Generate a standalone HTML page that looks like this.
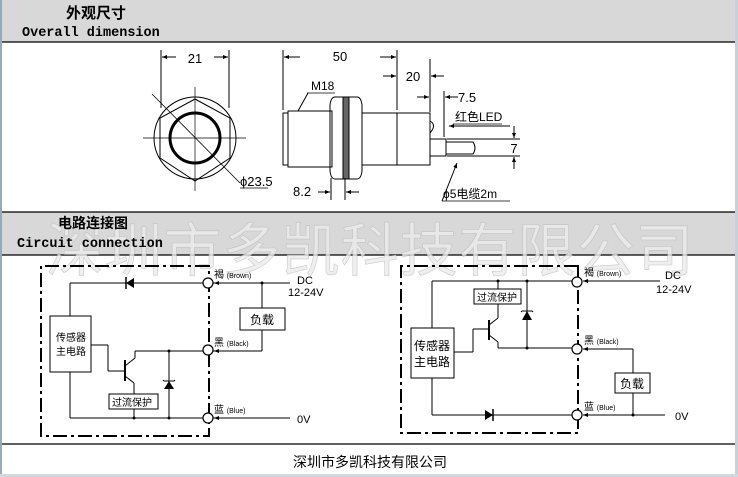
<!DOCTYPE html>
<html><head><meta charset="utf-8"><style>
html,body{margin:0;padding:0;background:#fff;}
svg{display:block;}
</style></head><body>
<svg width="738" height="477" viewBox="0 0 738 477" xmlns="http://www.w3.org/2000/svg" font-family="Liberation Sans, Noto Sans CJK SC, sans-serif">
<defs>
<marker id="ar" viewBox="0 0 10 10" refX="10" refY="5" markerWidth="7" markerHeight="5" orient="auto-start-reverse"><path d="M0,1 L10,5 L0,9z" fill="#000"/></marker>
</defs>
<rect x="0" y="0" width="738" height="477" fill="#fff"/>
<rect x="0" y="0" width="738" height="42" fill="#d8d8d8"/>
<rect x="0" y="212" width="738" height="43" fill="#d8d8d8"/>
<g stroke="#000" stroke-width="1.2">
<line x1="0" y1="42" x2="738" y2="42"/>
<line x1="0" y1="212" x2="738" y2="212"/>
<line x1="0" y1="255" x2="738" y2="255"/>
<line x1="0" y1="444" x2="738" y2="444"/>
</g>
<rect x="0" y="0" width="2" height="477" fill="#9aa8b8"/>
<rect x="735" y="0" width="3" height="477" fill="#c8d0d8"/>
<rect x="0" y="474" width="738" height="3" fill="#d0d8e0"/>
<text x="370" y="271" font-size="58" text-anchor="middle" fill="#ececec" stroke="#bcbcbc" stroke-width="0.6" font-family="Noto Sans CJK SC, sans-serif" letter-spacing="1" opacity="0.8">深圳市多凯科技有限公司</text>
<text x="66" y="18" font-size="15" font-weight="bold" font-family="Noto Sans CJK SC, sans-serif">外观尺寸</text>
<text x="22" y="36" font-size="13.5" font-family="Liberation Mono, monospace" font-weight="bold">Overall dimension</text>
<text x="58" y="228" font-size="14" font-weight="bold" font-family="Noto Sans CJK SC, sans-serif">电路连接图</text>
<text x="17" y="247" font-size="13.5" font-family="Liberation Mono, monospace" font-weight="bold">Circuit connection</text>

<g stroke="#000" fill="none" stroke-width="1">
<circle cx="195" cy="138" r="41"/>
<polygon points="195,99 230,118 230,158 195,181 160,158 160,118"/>
<circle cx="195" cy="138" r="25" stroke-width="3"/>
<line x1="143" y1="138" x2="246" y2="138" stroke-width="0.7"/>
<line x1="195" y1="87" x2="195" y2="191" stroke-width="0.7"/>
<line x1="152" y1="94" x2="240" y2="183" stroke-width="0.8"/>
<line x1="161" y1="50" x2="161" y2="108"/>
<line x1="229" y1="50" x2="229" y2="108"/>
<line x1="176" y1="57" x2="162" y2="57" marker-end="url(#ar)"/>
<line x1="214" y1="57" x2="228" y2="57" marker-end="url(#ar)"/>
<line x1="240" y1="188" x2="268" y2="188" stroke-width="0.8"/>
</g>
<text x="195" y="63" font-size="13" text-anchor="middle">21</text>
<text x="240" y="186" font-size="13">ϕ23.5</text>

<g stroke="#000" fill="none" stroke-width="1">
<rect x="283" y="113" width="5" height="52"/>
<rect x="288" y="111" width="44" height="56"/>
<path d="M335,97 h8 q4,0 5,8 v66 q-1,8 -5,8 h-8 q-4,0 -5,-8 v-66 q1,-8 5,-8z"/>
<path d="M349,97 h8 q4,0 5,8 v66 q-1,8 -5,8 h-8 q-4,0 -5,-8 v-66 q1,-8 5,-8z"/>
<rect x="343" y="97" width="6" height="82" fill="#666" stroke="#000"/>
<rect x="362" y="113" width="68" height="52"/>
<line x1="397" y1="113" x2="397" y2="165"/>
<path d="M430,121 q7,4 0,12"/>
<rect x="430" y="139" width="16" height="17"/>
<path d="M446,142 h27 q4,6 0,12 h-27"/>
<line x1="283" y1="50" x2="283" y2="110"/>
<line x1="397" y1="50" x2="397" y2="110"/>
<line x1="300" y1="57" x2="284" y2="57" marker-end="url(#ar)"/>
<line x1="380" y1="57" x2="396" y2="57" marker-end="url(#ar)"/>
<line x1="430" y1="59" x2="430" y2="112"/>
<line x1="383" y1="76" x2="396" y2="76" marker-end="url(#ar)"/>
<line x1="444" y1="76" x2="431" y2="76" marker-end="url(#ar)"/>
<line x1="444" y1="91" x2="444" y2="137"/>
<line x1="417" y1="97" x2="429" y2="97" marker-end="url(#ar)"/>
<line x1="458" y1="97" x2="445" y2="97" marker-end="url(#ar)"/>
<line x1="453" y1="124" x2="502" y2="124" stroke-width="0.7"/>
<line x1="510" y1="126" x2="449" y2="126" marker-end="url(#ar)"/>
<line x1="447" y1="139" x2="520" y2="139"/>
<line x1="447" y1="156" x2="520" y2="156"/>
<line x1="514" y1="126" x2="514" y2="138" marker-end="url(#ar)"/>
<line x1="514" y1="169" x2="514" y2="157" marker-end="url(#ar)"/>
<line x1="442" y1="201" x2="457" y2="163" marker-end="url(#ar)"/>
<line x1="442" y1="201" x2="510" y2="201" stroke-width="0.8"/>
<line x1="307" y1="93" x2="335" y2="93" stroke-width="0.8"/>
<line x1="308" y1="93" x2="298" y2="111"/>
<line x1="331" y1="178" x2="331" y2="200"/>
<line x1="345" y1="178" x2="345" y2="200"/>
<line x1="318" y1="192" x2="330" y2="192" marker-end="url(#ar)"/>
<line x1="359" y1="192" x2="346" y2="192" marker-end="url(#ar)"/>
</g>
<text x="340" y="61" font-size="13" text-anchor="middle">50</text>
<text x="413" y="81" font-size="13" text-anchor="middle">20</text>
<text x="458" y="102" font-size="13">7.5</text>
<text x="455" y="121" font-size="12" font-family="Liberation Sans, Noto Sans CJK SC, sans-serif">红色LED</text>
<text x="514" y="153" font-size="13" text-anchor="middle">7</text>
<text x="443" y="198" font-size="12" font-family="Liberation Sans, Noto Sans CJK SC, sans-serif">ϕ5电缆2m</text>
<text x="311" y="90" font-size="12">M18</text>
<text x="293" y="196" font-size="13">8.2</text>

<g stroke="#000" fill="none" stroke-width="1">
<path d="M209,266 H41 V436 H209 Z" stroke-width="2" stroke-dasharray="14,4,3,4"/>
<line x1="70" y1="283" x2="203" y2="283"/>
<line x1="70" y1="283" x2="70" y2="316"/>
<rect x="50" y="316" width="41" height="56"/>
<line x1="70" y1="372" x2="70" y2="418"/>
<line x1="70" y1="418" x2="203" y2="418"/>
<line x1="213" y1="283" x2="290" y2="283"/>
<line x1="213" y1="418" x2="290" y2="418"/>
<line x1="213" y1="351" x2="262" y2="351"/>
<line x1="262" y1="283" x2="262" y2="308"/>
<line x1="262" y1="330" x2="262" y2="351"/>
<rect x="240" y="308" width="45" height="22"/>
<line x1="135" y1="351" x2="203" y2="351"/>
<line x1="91" y1="345" x2="108" y2="345"/>
<line x1="108" y1="345" x2="108" y2="371"/>
<line x1="108" y1="371" x2="125" y2="371"/>
<line x1="125" y1="360" x2="125" y2="381" stroke-width="2"/>
<line x1="125" y1="366" x2="135" y2="358"/>
<line x1="135" y1="358" x2="135" y2="351"/>
<line x1="125" y1="376" x2="134" y2="383"/>
<line x1="134" y1="383" x2="134" y2="394"/>
<rect x="109" y="394" width="49" height="15"/>
<line x1="134" y1="409" x2="134" y2="418"/>
<line x1="169" y1="351" x2="169" y2="418"/>
<line x1="126" y1="277" x2="126" y2="289" stroke-width="1.5"/>
</g>
<polygon points="126,283 134,278 134,288" fill="#000"/>
<polygon points="169,381 164,389 174,389" fill="#000"/>
<path d="M163,380 l1,1 h10 l1,-1" stroke="#000" fill="none"/>
<g fill="#000"><circle cx="262" cy="283" r="1.5"/><circle cx="169" cy="351" r="1.5"/><circle cx="169" cy="418" r="1.5"/><circle cx="134" cy="418" r="1.5"/></g>
<g stroke="#000" fill="#fff" stroke-width="1.2"><circle cx="208" cy="283" r="5"/><circle cx="208" cy="350" r="5"/><circle cx="208" cy="418" r="5"/></g>
<g stroke="#000" stroke-width="1"><line x1="222" y1="283" x2="214" y2="283" marker-end="url(#ar)"/><line x1="222" y1="351" x2="214" y2="351" marker-end="url(#ar)"/><line x1="222" y1="418" x2="214" y2="418" marker-end="url(#ar)"/></g>
<g font-family="Liberation Sans, Noto Sans CJK SC, sans-serif">
<text x="56" y="341" font-size="10">传感器</text>
<text x="56" y="355" font-size="10">主电路</text>
<text x="250" y="324" font-size="12">负载</text>
<text x="112" y="406" font-size="10">过流保护</text>
<text x="214" y="278" font-size="10">褐 <tspan font-size="7">(Brown)</tspan></text>
<text x="214" y="346" font-size="10">黑 <tspan font-size="7">(Black)</tspan></text>
<text x="214" y="413" font-size="10">蓝 <tspan font-size="7">(Blue)</tspan></text>
<text x="297" y="284" font-size="11">DC</text>
<text x="288" y="296" font-size="11">12-24V</text>
<text x="297" y="423" font-size="11">0V</text>
</g>

<g stroke="#000" fill="none" stroke-width="1">
<path d="M578,266 H401 V433 H578 Z" stroke-width="2" stroke-dasharray="14,4,3,4"/>
<line x1="432" y1="281" x2="572" y2="281"/>
<line x1="432" y1="281" x2="432" y2="328"/>
<rect x="411" y="328" width="43" height="50"/>
<line x1="432" y1="378" x2="432" y2="415"/>
<line x1="432" y1="415" x2="572" y2="415"/>
<line x1="583" y1="281" x2="660" y2="281"/>
<line x1="583" y1="415" x2="665" y2="415"/>
<line x1="583" y1="349" x2="633" y2="349"/>
<line x1="633" y1="349" x2="633" y2="373"/>
<line x1="633" y1="393" x2="633" y2="415"/>
<rect x="615" y="373" width="35" height="20"/>
<line x1="498" y1="281" x2="498" y2="289"/>
<rect x="474" y="289" width="47" height="15"/>
<line x1="527" y1="281" x2="527" y2="349"/>
<line x1="454" y1="352" x2="473" y2="352"/>
<line x1="473" y1="352" x2="473" y2="329"/>
<line x1="473" y1="329" x2="489" y2="329"/>
<line x1="489" y1="320" x2="489" y2="340" stroke-width="2"/>
<line x1="489" y1="325" x2="498" y2="318"/>
<line x1="498" y1="318" x2="498" y2="304"/>
<line x1="489" y1="335" x2="498" y2="342"/>
<line x1="498" y1="342" x2="498" y2="348"/>
<line x1="498" y1="348" x2="572" y2="348"/>
<line x1="493" y1="409" x2="493" y2="421" stroke-width="1.5"/>
</g>
<polygon points="493,415 485,410 485,420" fill="#000"/>
<polygon points="527,311 522,320 532,320" fill="#000"/>
<path d="M521,312 l1,-1 h10 l1,1" stroke="#000" fill="none"/>
<g fill="#000"><circle cx="498" cy="281" r="1.5"/><circle cx="527" cy="281" r="1.5"/><circle cx="527" cy="348" r="1.5"/><circle cx="633" cy="415" r="1.5"/></g>
<g stroke="#000" fill="#fff" stroke-width="1.2"><circle cx="577" cy="282" r="5"/><circle cx="577" cy="349" r="5"/><circle cx="577" cy="415" r="5"/></g>
<g stroke="#000" stroke-width="1"><line x1="591" y1="281" x2="583" y2="281" marker-end="url(#ar)"/><line x1="591" y1="349" x2="583" y2="349" marker-end="url(#ar)"/><line x1="591" y1="415" x2="583" y2="415" marker-end="url(#ar)"/></g>
<g font-family="Liberation Sans, Noto Sans CJK SC, sans-serif">
<text x="414" y="350" font-size="12">传感器</text>
<text x="414" y="366" font-size="12">主电路</text>
<text x="620" y="388" font-size="12">负载</text>
<text x="477" y="301" font-size="10">过流保护</text>
<text x="584" y="276" font-size="10">褐 <tspan font-size="7">(Brown)</tspan></text>
<text x="584" y="344" font-size="10">黑 <tspan font-size="7">(Black)</tspan></text>
<text x="584" y="410" font-size="10">蓝 <tspan font-size="7">(Blue)</tspan></text>
<text x="665" y="279" font-size="11">DC</text>
<text x="656" y="293" font-size="11">12-24V</text>
<text x="675" y="420" font-size="11">0V</text>
<text x="370" y="467" font-size="14" text-anchor="middle">深圳市多凯科技有限公司</text>
</g>
</svg>
</body></html>
